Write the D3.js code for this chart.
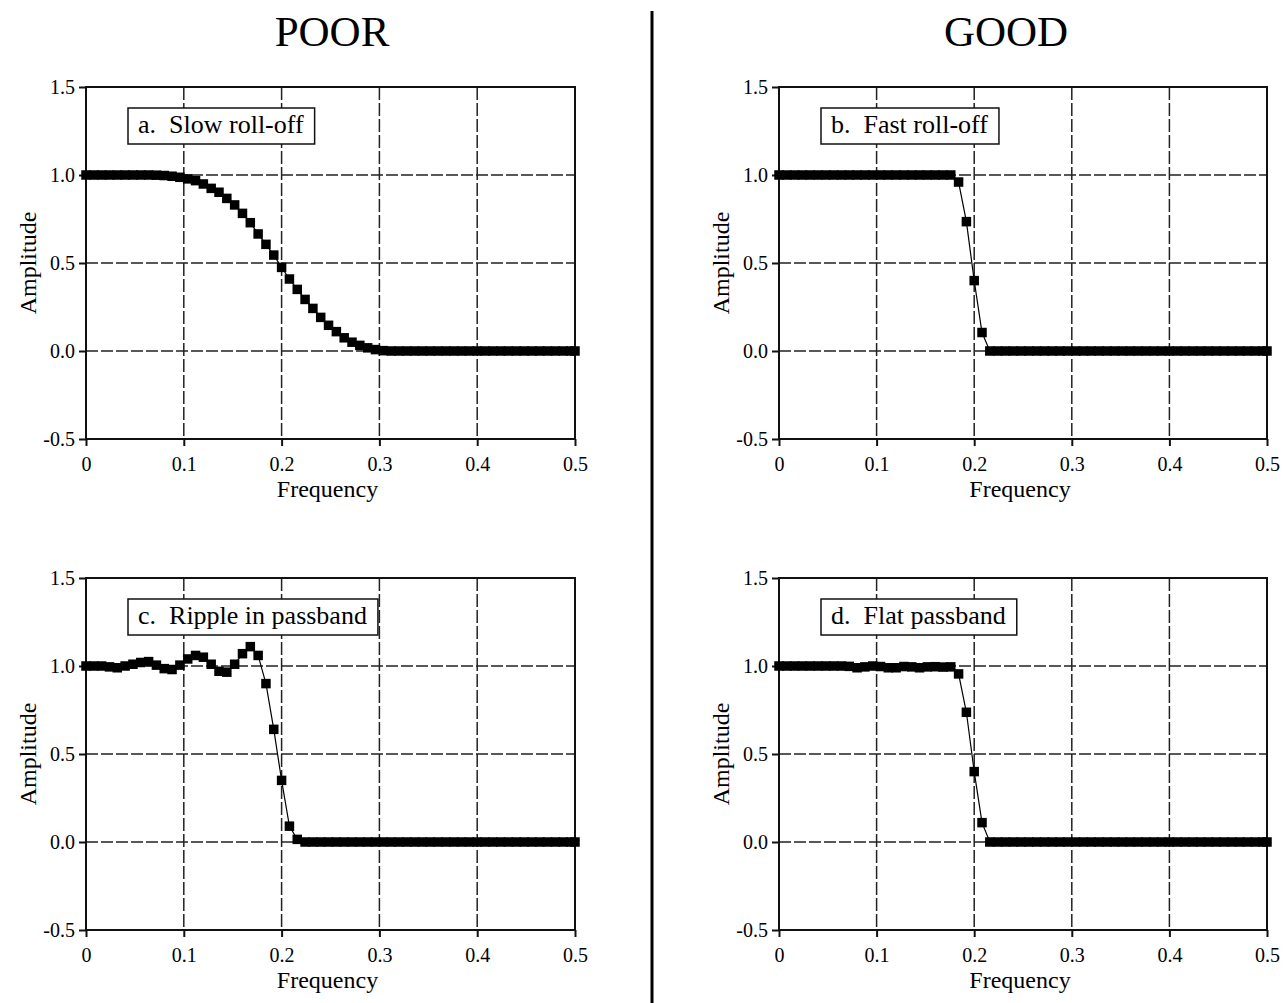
<!DOCTYPE html>
<html lang="en">
<head>
<meta charset="UTF-8">
<title>Filter frequency response: poor vs good</title>
<script src="https://d3js.org/d3.v7.min.js"></script>
<style>
    body{
        margin: 0;
        background: #fff;
    }
    text{
        font-family: "Liberation Serif", "Times New Roman", serif;
        fill: #000;
    }
</style>
</head>
<body>
<script>

// frequency samples (step 0.008, last one at the Nyquist edge)
const freq = [0, 0.008, 0.016, 0.024, 0.032, 0.04, 0.048, 0.056, 0.064, 0.072,
    0.08, 0.088, 0.096, 0.104, 0.112, 0.12, 0.128, 0.136, 0.144, 0.152,
    0.16, 0.168, 0.176, 0.184, 0.192, 0.2, 0.208, 0.216, 0.224, 0.232,
    0.24, 0.248, 0.256, 0.264, 0.272, 0.28, 0.288, 0.296, 0.304, 0.312,
    0.32, 0.328, 0.336, 0.344, 0.352, 0.36, 0.368, 0.376, 0.384, 0.392,
    0.4, 0.408, 0.416, 0.424, 0.432, 0.44, 0.448, 0.456, 0.464, 0.472,
    0.48, 0.488, 0.496, 0.5]

// a. slow roll-off
const slowRolloff = [1, 1, 1, 1, 1, 1, 1, 1, 1, 0.999,
    0.997, 0.993, 0.987, 0.978, 0.968, 0.949, 0.924, 0.902, 0.867, 0.83,
    0.782, 0.729, 0.665, 0.606, 0.545, 0.475, 0.409, 0.35, 0.293, 0.242,
    0.191, 0.146, 0.11, 0.075, 0.05, 0.032, 0.018, 0.008, 0.002, 0,
    0, 0, 0, 0, 0, 0, 0, 0, 0, 0,
    0, 0, 0, 0, 0, 0, 0, 0, 0, 0,
    0, 0, 0, 0]

// b. fast roll-off
const fastRolloff = [1, 1, 1, 1, 1, 1, 1, 1, 1, 1,
    1, 1, 1, 1, 1, 1, 1, 1, 1, 1,
    1, 1, 1, 0.96, 0.735, 0.4, 0.105, 0, 0, 0,
    0, 0, 0, 0, 0, 0, 0, 0, 0, 0,
    0, 0, 0, 0, 0, 0, 0, 0, 0, 0,
    0, 0, 0, 0, 0, 0, 0, 0, 0, 0,
    0, 0, 0, 0]

// c. ripple in passband
const ripplePassband = [1, 1, 1, 0.995, 0.99, 1, 1.01, 1.02, 1.025, 1.005,
    0.985, 0.98, 1.005, 1.04, 1.06, 1.05, 1.01, 0.97, 0.965, 1.01,
    1.07, 1.11, 1.06, 0.9, 0.64, 0.35, 0.09, 0.015, 0, 0,
    0, 0, 0, 0, 0, 0, 0, 0, 0, 0,
    0, 0, 0, 0, 0, 0, 0, 0, 0, 0,
    0, 0, 0, 0, 0, 0, 0, 0, 0, 0,
    0, 0, 0, 0]

// d. flat passband
const flatPassband = [1, 1, 1, 1, 1, 1, 1, 1, 1, 0.998,
    0.99, 0.995, 1, 0.997, 0.99, 0.99, 0.997, 0.995, 0.99, 0.995,
    0.996, 0.994, 0.995, 0.955, 0.737, 0.4, 0.11, 0, 0, 0,
    0, 0, 0, 0, 0, 0, 0, 0, 0, 0,
    0, 0, 0, 0, 0, 0, 0, 0, 0, 0,
    0, 0, 0, 0, 0, 0, 0, 0, 0, 0,
    0, 0, 0, 0]

const panelLabels = ["a.  Slow roll-off", "b.  Fast roll-off", "c.  Ripple in passband", "d.  Flat passband"]
const columnTitles = ["POOR", "GOOD"]
const xTicks = [0, 0.1, 0.2, 0.3, 0.4, 0.5]
const yTicks = [-0.5, 0, 0.5, 1.0, 1.5]
const xLabel = "Frequency"
const yLabel = "Amplitude"

const width = 1283
const height = 1003

let svg = d3.select("body").append("svg")
            .attr("width", width)
            .attr("height", height)

// panel boxes in page pixels
const panels = [
    {values: slowRolloff,    label: panelLabels[0], left: 86,  right: 575,  top: 87,  bottom: 439},
    {values: fastRolloff,    label: panelLabels[1], left: 779, right: 1267, top: 87,  bottom: 439},
    {values: ripplePassband, label: panelLabels[2], left: 86,  right: 575,  top: 578, bottom: 930},
    {values: flatPassband,   label: panelLabels[3], left: 779, right: 1267, top: 578, bottom: 930}
]

// column titles and divider
svg.selectAll(".colTitle")
    .data(columnTitles)
    .join("text")
    .attr("class", "colTitle")
    .attr("x", (d, i) => [332, 1006][i])
    .attr("y", 46)
    .attr("text-anchor", "middle")
    .attr("font-size", 43)
    .text(d => d)

svg.append("line")
    .attr("x1", 652).attr("x2", 652)
    .attr("y1", 11).attr("y2", height)
    .attr("stroke", "#000")
    .attr("stroke-width", 3)

panels.forEach(drawPanel)

function drawPanel(p) {
    const x = d3.scaleLinear().domain([0, 0.5]).range([p.left, p.right])
    const y = d3.scaleLinear().domain([-0.5, 1.5]).range([p.bottom, p.top])
    const g = svg.append("g")

    // dashed grid
    g.selectAll(".vgrid")
        .data(xTicks.slice(1, -1))
        .join("line")
        .attr("x1", d => x(d)).attr("x2", d => x(d))
        .attr("y1", p.top).attr("y2", p.bottom)
        .attr("stroke", "#222")
        .attr("stroke-width", 1.5)
        .attr("stroke-dasharray", "13,3")

    g.selectAll(".hgrid")
        .data(yTicks.slice(1, -1))
        .join("line")
        .attr("x1", p.left).attr("x2", p.right)
        .attr("y1", d => y(d)).attr("y2", d => y(d))
        .attr("stroke", "#222")
        .attr("stroke-width", 1.5)
        .attr("stroke-dasharray", "12,3")

    // frame
    g.append("rect")
        .attr("x", p.left).attr("y", p.top)
        .attr("width", p.right - p.left)
        .attr("height", p.bottom - p.top)
        .attr("fill", "none")
        .attr("stroke", "#111")
        .attr("stroke-width", 2)

    // axes
    const xAxis = g.append("g")
        .attr("transform", `translate(0,${p.bottom})`)
        .call(d3.axisBottom(x).tickValues(xTicks).tickSize(7).tickPadding(11)
            .tickFormat(d => d === 0 ? "0" : d.toFixed(1)))
    const yAxis = g.append("g")
        .attr("transform", `translate(${p.left},0)`)
        .call(d3.axisLeft(y).tickValues(yTicks).tickSize(7).tickPadding(4)
            .tickFormat(d => d.toFixed(1)))

    ;[xAxis, yAxis].forEach(a => {
        a.select(".domain").remove()
        a.attr("font-family", null).attr("font-size", 20)
        a.selectAll(".tick line").attr("stroke", "#111").attr("stroke-width", 2)
        a.selectAll(".tick text").attr("fill", "#000")
    })

    // axis titles
    g.append("text")
        .attr("x", (p.left + p.right) / 2 - 3)
        .attr("y", p.bottom + 58)
        .attr("text-anchor", "middle")
        .attr("font-size", 24)
        .text(xLabel)

    g.append("text")
        .attr("transform", `translate(${p.left - 50},${y(0.5)}) rotate(-90)`)
        .attr("text-anchor", "middle")
        .attr("font-size", 24)
        .text(yLabel)

    // thin connecting line + square markers
    const pts = freq.map((f, i) => [f, p.values[i]])
    g.append("path")
        .datum(pts)
        .attr("fill", "none")
        .attr("stroke", "#000")
        .attr("stroke-width", 1.2)
        .attr("d", d3.line().x(d => x(d[0])).y(d => y(d[1])))

    const s = 9.5
    g.selectAll(".pt")
        .data(pts)
        .join("rect")
        .attr("x", d => x(d[0]) - s / 2)
        .attr("y", d => y(d[1]) - s / 2)
        .attr("width", s).attr("height", s)
        .attr("fill", "#000")

    // label box
    const lb = g.append("g")
    const rect = lb.append("rect")
        .attr("fill", "#fff")
        .attr("stroke", "#111")
        .attr("stroke-width", 1.5)
    const txt = lb.append("text")
        .attr("x", p.left + 52)
        .attr("y", p.top + 46)
        .attr("font-size", 26)
        .style("white-space", "pre")
        .text(p.label)
    const tw = txt.node().getComputedTextLength()
    rect.attr("x", p.left + 42)
        .attr("y", p.top + 21)
        .attr("width", tw + 21)
        .attr("height", 36)
}

</script>
</body>
</html>
